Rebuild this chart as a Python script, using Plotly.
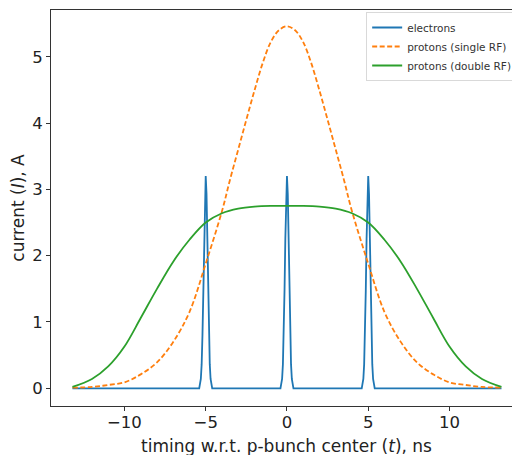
import plotly.graph_objects as go

# electron bunches (three short spikes)
ele_t = [-13.2, -5.4, -5.3, -5.25, -5.2, -5.15, -5.1, -5.05, -5.0, -4.95, -4.9, -4.85, -4.8, -4.75, -4.7, -4.6,
         -0.4, -0.3, -0.25, -0.2, -0.15, -0.1, -0.05, 0.0, 0.05, 0.1, 0.15, 0.2, 0.25, 0.3, 0.4,
         4.6, 4.7, 4.75, 4.8, 4.85, 4.9, 4.95, 5.0, 5.05, 5.1, 5.15, 5.2, 5.25, 5.3, 5.4, 13.2]
ele_i = [0.0, 0.0, 0.14, 0.36, 0.80, 1.47, 2.26, 2.93, 3.20, 2.93, 2.26, 1.47, 0.80, 0.36, 0.14, 0.0,
         0.0, 0.14, 0.36, 0.80, 1.47, 2.26, 2.93, 3.20, 2.93, 2.26, 1.47, 0.80, 0.36, 0.14, 0.0,
         0.0, 0.14, 0.36, 0.80, 1.47, 2.26, 2.93, 3.20, 2.93, 2.26, 1.47, 0.80, 0.36, 0.14, 0.0, 0.0]

# proton bunch, single RF
p1_t = [-13.2, -12, -11, -10, -9, -8, -7, -6, -5, -4, -3.5, -3, -2.5, -2, -1.5, -1, -0.5, 0,
        0.5, 1, 1.5, 2, 2.5, 3, 3.5, 4, 5, 6, 7, 8, 9, 10, 11, 12, 13.2]
p1_i = [0.01, 0.02, 0.05, 0.09, 0.21, 0.39, 0.70, 1.15, 1.88, 2.67, 3.15, 3.60, 4.05, 4.49, 4.90, 5.22, 5.40, 5.46,
        5.40, 5.22, 4.90, 4.49, 4.05, 3.60, 3.15, 2.67, 1.88, 1.15, 0.70, 0.39, 0.21, 0.09, 0.05, 0.02, 0.01]

# proton bunch, double RF
p2_t = [-13.2, -12, -11, -10, -9, -8, -7, -6, -5, -4, -3, -2, -1, 0,
        1, 2, 3, 4, 5, 6, 7, 8, 9, 10, 11, 12, 13.2]
p2_i = [0.02, 0.14, 0.33, 0.63, 1.06, 1.50, 1.91, 2.24, 2.50, 2.64, 2.71, 2.74, 2.75, 2.75,
        2.75, 2.74, 2.71, 2.64, 2.50, 2.24, 1.91, 1.50, 1.06, 0.63, 0.33, 0.14, 0.02]

x_ticks = [-10, -5, 0, 5, 10]
x_labels = ['\u221210', '\u22125', '0', '5', '10']
y_ticks = [0, 1, 2, 3, 4, 5]

fig = go.Figure()
fig.add_scatter(x=ele_t, y=ele_i, name='electrons', mode='lines',
                line={'color': '#1f77b4', 'width': 1.8})
fig.add_scatter(x=p1_t, y=p1_i, name='protons (single RF)', mode='lines',
                line={'color': '#ff7f0e', 'width': 1.8, 'dash': '5px,2.5px', 'shape': 'spline'})
fig.add_scatter(x=p2_t, y=p2_i, name='protons (double RF)', mode='lines',
                line={'color': '#2ca02c', 'width': 1.8, 'shape': 'spline'})

# the page body adds an 8px margin, so the figure is 8px smaller than the window
font = 'DejaVu Sans'
fig.update_layout(
    width=512, height=447,
    margin=dict(l=43, r=0, t=1.5, b=49),
    paper_bgcolor='white', plot_bgcolor='white',
    font=dict(family=font, color='#222'),
    legend=dict(x=0.672, y=0.995, xanchor='left', yanchor='top',
                bgcolor='white', bordercolor='#d9d9d9', borderwidth=1,
                font=dict(size=10.5, family=font, color='#333'),
                tracegroupgap=0, itemwidth=30),
)
# x title as annotation so it can sit low, partly cut by the bottom edge like the original
fig.add_annotation(text='timing w.r.t. p-bunch center (<i>t</i>), ns',
                   xref='x', x=0, yref='paper', y=0, yanchor='middle', yshift=-40,
                   showarrow=False, font=dict(size=17, family=font, color='#222'))
fig.update_xaxes(range=[-14.52, 14.34], tickvals=x_ticks, ticktext=x_labels,
                 showgrid=False, zeroline=False, showline=True, linecolor='#333', linewidth=1,
                 mirror=True, ticks='outside', ticklen=4, tickcolor='#333',
                 tickfont=dict(size=16.5), ticklabelstandoff=-3)
fig.update_yaxes(range=[-0.267, 5.705], tickvals=y_ticks,
                 showgrid=False, zeroline=False, showline=True, linecolor='#333', linewidth=1,
                 ticks='outside', ticklen=4, tickcolor='#333',
                 tickfont=dict(size=16.5),
                 title=dict(text='current (<i>I</i>), A', font=dict(size=17), standoff=10))

fig.write_html("out.html")
